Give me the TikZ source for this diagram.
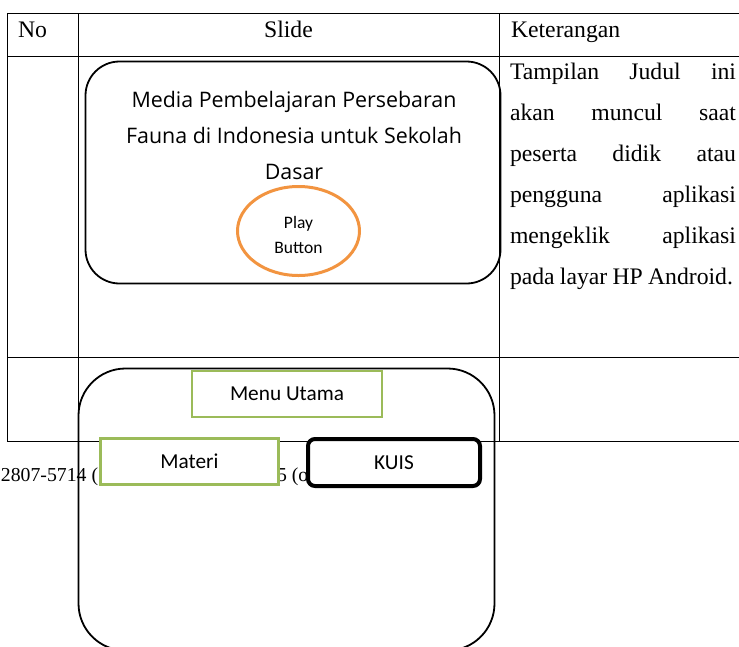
\documentclass[tikz,border=0pt]{standalone}
\usepackage{fontspec}
\setmainfont{Liberation Serif}
\newfontfamily\slidefont{Open Sans}
\newfontfamily\calfont{Carlito}
\usetikzlibrary{shapes.geometric,positioning}
\definecolor{playorange}{RGB}{242,148,64}
\definecolor{menugreen}{RGB}{155,187,89}
\tikzset{
  tabline/.style={line width=1pt},
  slideframe/.style={draw, rectangle, line width=1.8pt},
  btnbox/.style={rectangle, fill=white, inner sep=0pt,
    font=\calfont\fontsize{21.3}{26}\selectfont},
  bodytext/.style={font=\fontsize{23.7}{41}\selectfont},
}

\begin{document}
\begin{tikzpicture}[x=1pt,y=-1pt,
  every node/.style={inner sep=0pt, outer sep=0pt}]
\useasboundingbox (0,0) rectangle (739,646);
\clip (0,0) rectangle (739,646);
% Table grid
\foreach \y in {13,56,357,441}{
  \draw[tabline] (7,\y) -- (739,\y);
}
\foreach \x in {7,78,499}{
  \draw[tabline] (\x,13) -- (\x,441);
}
% Header row
\node[bodytext, anchor=base west] (hno) at (18,37) {No};
\node[bodytext, anchor=base] (hslide) at (288.5,37) {Slide};
\node[bodytext, anchor=base west] (hket) at (511,37) {Keterangan};
% Slide 1: title screen
\node[slideframe, rounded corners=34pt,
  minimum width=415pt, minimum height=222pt] (slide1) at (293,172.5) {};
\node[align=center, font=\slidefont\fontsize{21.4}{36}\selectfont]
  (judul) at (294,135)
  {Media Pembelajaran Persebaran\\Fauna di Indonesia untuk Sekolah\\Dasar};
\node[ellipse, draw=playorange, line width=3pt,
  minimum width=122pt, minimum height=89pt] (play) at (298.5,231) {};
\node[align=center, font=\calfont\fontsize{17.5}{25}\selectfont]
  (playtxt) at ([yshift=-4pt]play.center) {Play\\Button};
\node[bodytext, anchor=north west, text width=226pt, align=left]
  (ket1) at (510,63.5)
  {Tampilan\hfill Judul\hfill ini\\
   akan\hfill muncul\hfill saat\\
   peserta\hfill didik\hfill atau\\
   pengguna\hfill aplikasi\\
   mengeklik\hfill aplikasi\\
   \mbox{\spaceskip=.22em\relax pada layar HP Android.}};
% Page footer showing through
\node[anchor=base west, font=\fontsize{19.75}{24}\selectfont]
  (issn1) at (1,481) {2807-5714 (};
\node[anchor=base west, font=\fontsize{19.75}{24}\selectfont]
  (issn2) at (277,481) {5 (o};
% Slide 2: main menu
\node[slideframe, rounded corners=47pt,
  minimum width=416pt, minimum height=282pt] (slide2) at (286.5,509.5) {};
\node[btnbox, draw=menugreen, line width=2pt,
  minimum width=190pt, minimum height=46pt] (menu) at (287,394) {Menu Utama};
\node[btnbox, draw=menugreen, line width=3pt,
  minimum width=178pt, minimum height=46pt] (materi) at (189.5,461) {Materi};
\node[btnbox, draw=black, line width=4pt, rounded corners=7pt,
  minimum width=172pt, minimum height=47pt] (kuis) at (394,462.5) {KUIS};
\end{tikzpicture}
\end{document}
